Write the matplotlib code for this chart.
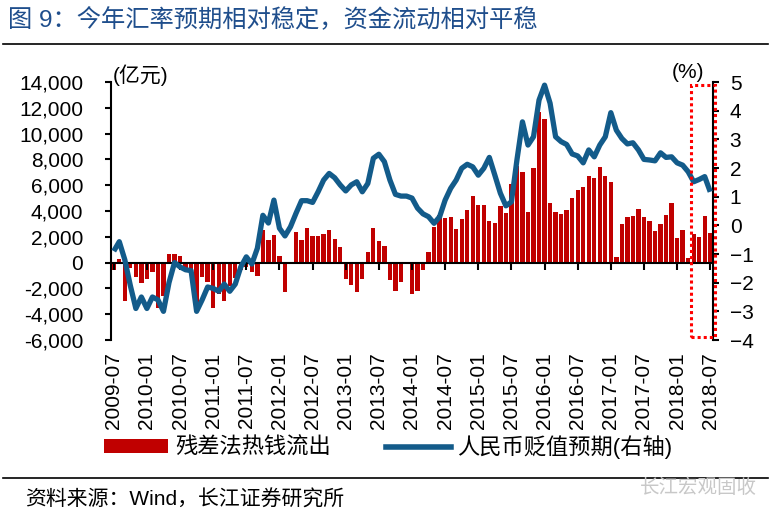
import matplotlib
matplotlib.use('Agg')
import matplotlib.pyplot as plt
import numpy as np
from matplotlib.patches import Rectangle, Patch
from matplotlib.lines import Line2D
from matplotlib.ticker import FuncFormatter

plt.rcParams['font.family'] = ['Liberation Sans', 'Noto Sans CJK SC', 'DejaVu Sans']

# 残差法热钱流出 (亿元), monthly 2009-07 .. 2018-07
hot_money = [
    -600, 300, -3000, -400, -1100, -1550, -1300, -750, -3500, -2600,
    700, 650, 550, -400, -500, -3200, -1100, -1500, -3500, -2400,
    -3000, -1800, -1200, -600, -350, -750, -1000, 2500, 1750, 2150,
    550, -2300, 0, 2350, 1750, 2700, 2050, 2100, 2250, 2550,
    1850, 1200, -1300, -1700, -2300, -1300, 800, 2650, 1650, 1300,
    -1350, -2200, -1500, 0, -2400, -2200, -600, 800, 2750, 3700,
    3450, 3500, 2600, 3350, 4050, 5150, 4500, 4450, 3200, 3100,
    4400, 3850, 6100, 7450, 7050, 3900, 7300, 11700, 11100, 4650,
    3900, 3780, 4040, 4980, 5630, 5860, 6700, 6540, 7440, 6740,
    6260, 420, 3000, 3570, 3590, 4130, 3510, 3260, 2480, 3000,
    3720, 4630, 1910, 2560, 360, 2220, 2020, 3590, 2270,
]

# 人民币贬值预期 (%), right axis
depr_exp = [
    -0.9, -0.57, -1.2, -2.1, -2.9, -2.5, -2.9, -2.5, -2.6, -3.0,
    -2.0, -1.3, -1.45, -1.55, -1.58, -3.0, -2.6, -2.15, -2.2, -2.3,
    -2.05, -2.3, -2.05, -1.45, -1.1, -1.35, -0.8, 0.35, 0.08, 0.88,
    -0.1, -0.37, -0.05, 0.42, 0.86, 0.86, 0.8, 1.17, 1.58, 1.81,
    1.66, 1.41, 1.2, 1.41, 1.52, 1.17, 1.46, 2.34, 2.48, 2.22,
    1.58, 1.08, 1.02, 1.02, 0.95, 0.6, 0.4, 0.3, 0.07, 0.3,
    0.88, 1.29, 1.58, 1.99, 2.13, 2.04, 1.75, 1.99, 2.37, 1.75,
    1.12, 0.68, 0.82, 2.28, 3.61, 2.8, 3.09, 4.37, 4.89, 4.26,
    3.09, 2.92, 2.82, 2.49, 2.42, 2.18, 2.63, 2.39, 2.8, 3.09,
    3.93, 3.32, 3.03, 2.84, 2.88, 2.63, 2.3, 2.28, 2.25, 2.53,
    2.37, 2.39, 2.18, 2.1, 1.87, 1.52, 1.6, 1.7, 1.17,
]

tick_labels = [
    '2009-07', '2010-01', '2010-07', '2011-01', '2011-07', '2012-01',
    '2012-07', '2013-01', '2013-07', '2014-01', '2014-07', '2015-01',
    '2015-07', '2016-01', '2016-07', '2017-01', '2017-07', '2018-01',
    '2018-07',
]
tick_step = 6

bar_color = '#C00000'
line_color = '#135B8A'

fig = plt.figure(figsize=(7.71, 5.17), dpi=100)
ax = fig.add_axes([111 / 771, 1 - 340 / 517, 602 / 771, 258 / 517])

x = np.arange(len(hot_money))
ax.bar(x, hot_money, width=0.78, color=bar_color, edgecolor='none', zorder=2)
ax.set_xlim(-0.5, len(x) - 0.5)
ax.set_ylim(-6000, 14000)
ax.set_yticks(np.arange(-6000, 14001, 2000))
ax.yaxis.set_major_formatter(FuncFormatter(lambda v, p: f'{int(v):,}'))
for s in ['top', 'bottom', 'right']:
    ax.spines[s].set_visible(False)
ax.spines['left'].set_linewidth(1.5)
ax.set_xticks(x[::tick_step])
ax.set_xticklabels(tick_labels, rotation=90)
ax.tick_params(axis='x', length=0, pad=9, labelsize=15)
ax.tick_params(axis='y', direction='out', length=4, width=1.5, pad=16, labelsize=15)

# zero line with tick marks
sec = ax.secondary_xaxis(0.3)
sec.set_xticks(x[::tick_step])
sec.set_xticklabels([])
sec.tick_params(direction='out', length=5, width=1.5)
sec.spines['bottom'].set_linewidth(1.5)
sec.set_zorder(3)

ax2 = ax.twinx()
ax2.plot(x, depr_exp, color=line_color, lw=3.8, solid_joinstyle='round',
         solid_capstyle='butt', zorder=4)
ax2.set_ylim(-4, 5)
ax2.set_yticks(np.arange(-4, 6, 1))
for s in ['top', 'bottom', 'left']:
    ax2.spines[s].set_visible(False)
ax2.spines['right'].set_linewidth(1.5)
ax2.tick_params(axis='y', direction='out', length=4, width=1.5, pad=8, labelsize=15)

# red dotted highlight box
ax2.add_patch(Rectangle((0.963, 0.012), 0.041, 0.976, transform=ax2.transAxes,
                        fill=False, edgecolor='#FF0000', lw=2.2,
                        linestyle=(0, (1, 1)), clip_on=False, zorder=5))

fig.text(113 / 771, 1 - 75 / 517, '(亿元)', fontsize=15, va='center', ha='left')
fig.text(672 / 771, 1 - 72 / 517, '(%)', fontsize=15, va='center', ha='left')

fig.text(8 / 771, 1 - 20 / 517, '图 9：今年汇率预期相对稳定，资金流动相对平稳',
         fontsize=17.5, color='#1F4E8C', va='center', ha='left')
fig.add_artist(Line2D([3 / 771, 768 / 771], [1 - 44 / 517] * 2, color='black', lw=1.2))
fig.add_artist(Line2D([3 / 771, 768 / 771], [1 - 478 / 517] * 2, color='black', lw=1.2))

fig.text(25 / 771, 1 - 500 / 517, '资料来源：Wind，长江证券研究所',
         fontsize=15, va='center', ha='left')
fig.text(640 / 771, 1 - 488 / 517, '长江宏观固收', fontsize=14, color='#C8C8C8',
         va='center', ha='left')

handles = [Patch(facecolor=bar_color, label='残差法热钱流出'),
           Line2D([], [], color=line_color, lw=4, label='人民币贬值预期(右轴)')]
fig.legend(handles=handles, loc='center', bbox_to_anchor=(388 / 771, 1 - 447 / 517),
           ncol=2, frameon=False, fontsize=16, handlelength=2.9, handleheight=0.55,
           handletextpad=0.3, columnspacing=2.5, borderpad=0)

fig.savefig('out.png', dpi=100)
